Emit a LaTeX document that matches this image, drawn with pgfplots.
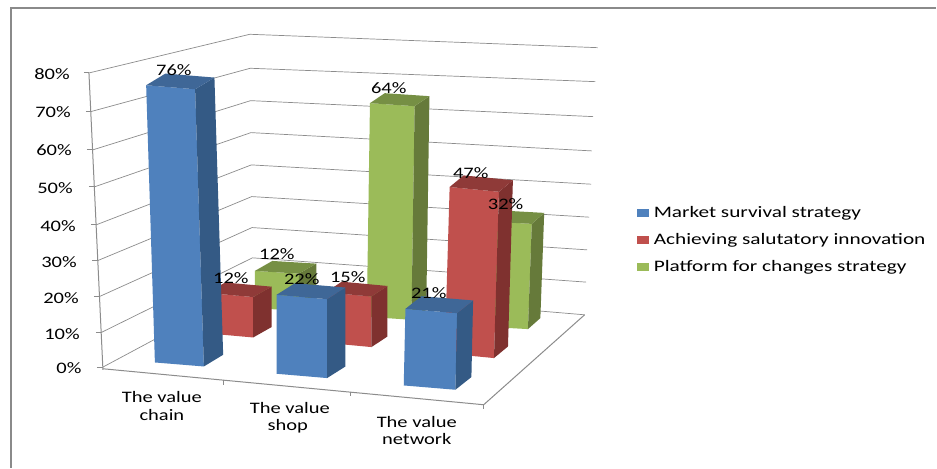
\documentclass[border=0pt]{standalone}
\usepackage{pgfplots}
\usepackage{pgfplotstable}
\usepackage{fontspec}
\pgfplotsset{compat=1.18}
\setmainfont{Carlito}

\definecolor{blueF}{HTML}{4F81BD}\definecolor{blueS}{HTML}{345A85}\definecolor{blueT}{HTML}{3F6797}
\definecolor{redF}{HTML}{C0504D}\definecolor{redS}{HTML}{7F312F}\definecolor{redT}{HTML}{8F3A38}
\definecolor{greenF}{HTML}{9BBB59}\definecolor{greenS}{HTML}{667A3A}\definecolor{greenT}{HTML}{768F44}
\definecolor{gridc}{HTML}{8C8C8C}
\definecolor{framec}{HTML}{8A8A8A}

% Percentages per category
\pgfplotstableread{
row  market innovation platform
0    76     12         12
1    22     15         64
2    21     47         32
}\strategydata

% A box standing on a floor quadrilateral.
% #1 column, #2 row, #3 colour stem,
% #4-#9 floor points front-left, front-right, back-right,
% then the projected rise of one percentage point as two further arguments
\newcommand\boxbar[9]{%
  \pgfplotstablegetelem{#2}{#1}\of\strategydata
  \let\barval\pgfplotsretval
  \def\stem{#3}%
  \def\flx{#4}\def\fly{#5}\def\frx{#6}\def\fry{#7}\def\brx{#8}\def\bry{#9}%
  \boxbarrest}
\newcommand\boxbarrest[2]{%
  \pgfmathsetmacro\blx{\flx+\brx-\frx}\pgfmathsetmacro\bly{\fly+\bry-\fry}%
  \pgfmathsetmacro\tflx{\flx+\barval*#1}\pgfmathsetmacro\tfly{\fly+\barval*#2}%
  \pgfmathsetmacro\tfrx{\frx+\barval*#1}\pgfmathsetmacro\tfry{\fry+\barval*#2}%
  \pgfmathsetmacro\tbrx{\brx+\barval*#1}\pgfmathsetmacro\tbry{\bry+\barval*#2}%
  \pgfmathsetmacro\tblx{\blx+\barval*#1}\pgfmathsetmacro\tbly{\bly+\barval*#2}%
  \edef\faces{%
    \noexpand\addplot[draw=none,fill=\stem F] coordinates {(\flx,\fly)(\frx,\fry)(\tfrx,\tfry)(\tflx,\tfly)} --cycle;
    \noexpand\addplot[draw=none,fill=\stem S] coordinates {(\frx,\fry)(\brx,\bry)(\tbrx,\tbry)(\tfrx,\tfry)} --cycle;
    \noexpand\addplot[draw=none,fill=\stem T] coordinates {(\tflx,\tfly)(\tfrx,\tfry)(\tbrx,\tbry)(\tblx,\tbly)} --cycle;
  }%
  \faces
}
\newcommand\lab[3]{\node[font=\fontsize{16}{16}\selectfont,anchor=center,inner sep=0pt] at (axis cs:#1,#2) {\scalebox{1.28}[1]{#3}};}

\begin{document}
\begin{tikzpicture}
\begin{axis}[
  x=1pt,y=1pt,
  xmin=0,xmax=937,ymin=0,ymax=468,
  y dir=reverse,
  hide axis,
  clip=false,
]
% page background and chart frame
\addplot[draw=none,fill=white] coordinates {(0,0)(937,0)(937,468)(0,468)} --cycle;
\addplot[framec,line width=1.2pt] coordinates {(11,468)(11,8)(937,8)};

% side wall gridlines
\addplot[gridc,line width=0.7pt] coordinates {(89,73)(250,34.3)(598,47.7)};
\addplot[gridc,line width=0.7pt] coordinates {(90.8,111.7)(250.4,68.3)(595.7,81.7)};
\addplot[gridc,line width=0.7pt] coordinates {(92.7,150)(250.8,100.7)(593.5,116.7)};
\addplot[gridc,line width=0.7pt] coordinates {(94.4,187)(251.1,132.7)(592.3,151)};
\addplot[gridc,line width=0.7pt] coordinates {(96.2,225)(251.5,165)(591.5,184.3)};
\addplot[gridc,line width=0.7pt] coordinates {(97.9,260.7)(251.9,196.7)(589.5,217.3)};
\addplot[gridc,line width=0.7pt] coordinates {(99.6,296.7)(252.2,227.7)(587.5,250)};
\addplot[gridc,line width=0.7pt] coordinates {(101.3,332.7)(252.6,258)(586.5,282.3)};
\addplot[gridc,line width=0.7pt] coordinates {(103,367.3)(253,287)(585,315)};
% vertical axis and its ticks
\addplot[gridc,line width=1pt] coordinates {(89,73)(103,370)};
\addplot[gridc,line width=1pt] coordinates {(84,73)(89,73)};
\addplot[gridc,line width=1pt] coordinates {(86,111.7)(90.8,111.7)};
\addplot[gridc,line width=1pt] coordinates {(87,150)(92.7,150)};
\addplot[gridc,line width=1pt] coordinates {(89,187)(94.4,187)};
\addplot[gridc,line width=1pt] coordinates {(91,225)(96.2,225)};
\addplot[gridc,line width=1pt] coordinates {(92.5,260.7)(97.9,260.7)};
\addplot[gridc,line width=1pt] coordinates {(94,296.7)(99.6,296.7)};
\addplot[gridc,line width=1pt] coordinates {(96,332.7)(101.3,332.7)};
\addplot[gridc,line width=1pt] coordinates {(97,367.3)(103,367.3)};
% floor front and right edges with category ticks
\addplot[gridc,line width=1pt] coordinates {(103,369)(484,405)(585,315)};
\addplot[gridc,line width=1pt] coordinates {(224,380)(224,385)};
\addplot[gridc,line width=1pt] coordinates {(351,392)(351,396)};
\addplot[gridc,line width=1pt] coordinates {(483.5,405)(483.5,409)};

% bars, furthest row first
\boxbar{platform}{0}{green}{255}{308.3}{299}{311}{316.5}{301}{0}{-3.1}
\boxbar{platform}{1}{green}{367}{317}{411.7}{320}{426.5}{310}{0.05}{-3.34}
\boxbar{platform}{2}{green}{487}{327}{528.3}{329.3}{540.7}{318.3}{0.12}{-3.29}
\boxbar{innovation}{0}{red}{207}{333.5}{253.3}{337.7}{271.7}{327.3}{0}{-3.37}
\boxbar{innovation}{1}{red}{326}{343}{371.7}{347.3}{387.7}{336.7}{0}{-3.37}
\boxbar{innovation}{2}{red}{445}{353.5}{494.3}{358.3}{508.3}{346.7}{0.105}{-3.54}
\boxbar{market}{0}{blue}{155}{362.7}{204}{366.7}{223.3}{355}{-0.115}{-3.65}
\boxbar{market}{1}{blue}{276.7}{374}{327.3}{378.3}{345.7}{366.7}{0}{-3.59}
\boxbar{market}{2}{blue}{404}{385.7}{455.7}{390}{471.7}{377.3}{0.08}{-3.65}

% vertical axis labels
\lab{52}{74}{80\%}
\lab{53}{112}{70\%}
\lab{54}{150}{60\%}
\lab{55}{188}{50\%}
\lab{58}{226}{40\%}
\lab{59}{262}{30\%}
\lab{61}{298}{20\%}
\lab{62}{334}{10\%}
\lab{69}{368}{0\%}
% category labels
\lab{162}{397}{The value}
\lab{162}{415}{chain}
\lab{290}{408}{The value}
\lab{288}{427}{shop}
\lab{417}{422}{The value}
\lab{417}{439}{network}
% value labels
\lab{174}{70}{76\%}
\lab{231}{278}{12\%}
\lab{277}{254}{12\%}
\lab{302}{279}{22\%}
\lab{348}{277}{15\%}
\lab{389}{88}{64\%}
\lab{471}{173}{47\%}
\lab{506}{204}{32\%}
\lab{429}{293}{21\%}

% legend
\addplot[draw=none,fill=blueF] coordinates {(637,209)(649.5,209)(649.5,217)(637,217)} --cycle;
\addplot[draw=none,fill=redF] coordinates {(637,236)(649.5,236)(649.5,244)(637,244)} --cycle;
\addplot[draw=none,fill=greenF] coordinates {(637,263)(649.5,263)(649.5,271)(637,271)} --cycle;
\node[anchor=west,inner sep=0pt,font=\fontsize{16}{16}\selectfont] at (axis cs:654,213) {\scalebox{1.33}[1]{Market survival strategy}};
\node[anchor=west,inner sep=0pt,font=\fontsize{16}{16}\selectfont] at (axis cs:654,240) {\scalebox{1.33}[1]{Achieving salutatory innovation}};
\node[anchor=west,inner sep=0pt,font=\fontsize{16}{16}\selectfont] at (axis cs:654,267) {\scalebox{1.33}[1]{Platform for changes strategy}};
\end{axis}
\end{tikzpicture}
\end{document}
